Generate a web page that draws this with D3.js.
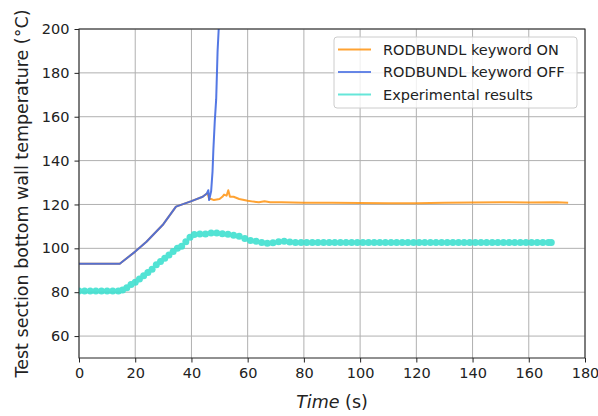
<!DOCTYPE html>
<html>
<head>
<meta charset="utf-8">
<script src="https://cdn.jsdelivr.net/npm/d3@7"></script>
<style>
  html, body { margin: 0; padding: 0; background: #fff; }
  svg { display: block; font-family: "DejaVu Sans", sans-serif; }
</style>
</head>
<body>
<svg id="chart" width="598" height="416"></svg>
<script>
// ---- data ----
const onTime = [0, 14.5, 20, 24, 30, 34.5, 40, 44, 45.5, 46, 46.3, 47, 48, 49, 50, 51, 51.6, 52.5, 53.1, 53.7, 55, 57, 60, 62, 64, 66, 68, 72, 80, 90, 100, 110, 120, 130, 140, 150, 160, 170, 174];
const onTemp = [93, 93, 98.5, 103, 111, 119, 121.5, 123.5, 125, 124, 122.5, 122.5, 122, 122.3, 122.5, 123.5, 124.5, 124, 126.5, 123.5, 123.5, 122.5, 121.7, 121.3, 121, 121.5, 121, 121, 120.8, 120.8, 120.7, 120.6, 120.6, 120.8, 120.9, 121, 120.9, 121, 120.8];

const offTime = [0, 14.5, 20, 24, 30, 34.5, 40, 44, 45.5, 46, 46.3, 47, 47.5, 47.8, 48.3, 48.8, 49.3, 49.7, 50.5];
const offTemp = [93, 93, 98.5, 103, 111, 119, 121.5, 123.5, 125, 126.5, 122, 126, 135, 145, 158, 168, 190, 200, 230];

const expTime = [0, 2, 4, 6, 8, 10, 12, 14, 15.5, 17, 18.5, 20, 21.5, 23, 24.5, 26, 27.5, 29, 30.5, 32, 33.5, 35, 36.5, 38, 39.5, 41, 43, 45, 47, 49, 51, 53, 55, 57, 59, 61, 63, 65, 67, 69, 71, 73, 75, 77, 79, 81, 83, 85, 87, 89, 91, 93, 95, 97, 99, 101, 103, 105, 107, 109, 111, 113, 115, 117, 119, 121, 123, 125, 127, 129, 131, 133, 135, 137, 139, 141, 143, 145, 147, 149, 151, 153, 155, 157, 159, 161, 163, 165, 167, 168];
const expTemp = [80.5, 80.5, 80.5, 80.5, 80.5, 80.5, 80.5, 80.5, 81, 82, 83.5, 84.5, 86, 87.5, 89, 90.5, 92.5, 94, 95.5, 97, 98.5, 100, 101, 103, 105, 106.3, 106.5, 106.5, 107, 107, 106.6, 106.4, 106, 105.5, 104.5, 103.6, 103.2, 102.7, 102.3, 102.5, 103, 103.2, 102.9, 102.7, 102.7, 102.7, 102.7, 102.7, 102.7, 102.7, 102.7, 102.7, 102.7, 102.7, 102.7, 102.7, 102.7, 102.7, 102.7, 102.7, 102.7, 102.7, 102.7, 102.7, 102.7, 102.7, 102.7, 102.7, 102.7, 102.7, 102.7, 102.7, 102.7, 102.7, 102.7, 102.7, 102.7, 102.7, 102.7, 102.7, 102.7, 102.7, 102.7, 102.7, 102.7, 102.7, 102.7, 102.7, 102.7, 102.7];

const xTicks = [0, 20, 40, 60, 80, 100, 120, 140, 160, 180];
const yTicks = [60, 80, 100, 120, 140, 160, 180, 200];

const seriesNames = ["RODBUNDL keyword ON", "RODBUNDL keyword OFF", "Experimental results"];
const seriesColors = ["#ff8c00", "#4169e1", "#40e0d0"];

// ---- layout ----
const svg = d3.select("#chart");
const pLeft = 79, pRight = 585, pTop = 29, pBottom = 358;

const x = d3.scaleLinear().domain([0, 180]).range([pLeft, pRight]);
const y = d3.scaleLinear().domain([50, 200]).range([pBottom, pTop]);

svg.append("defs").append("clipPath").attr("id", "plotclip")
  .append("rect").attr("x", pLeft).attr("y", pTop).attr("width", pRight - pLeft).attr("height", pBottom - pTop);

// grid
const grid = svg.append("g");
grid.selectAll("line.gx").data(xTicks).join("line").attr("class", "gx")
  .attr("x1", d => x(d)).attr("x2", d => x(d)).attr("y1", pTop).attr("y2", pBottom)
  .attr("stroke", "#b0b0b0").attr("stroke-width", 1);
grid.selectAll("line.gy").data(yTicks).join("line").attr("class", "gy")
  .attr("y1", d => y(d)).attr("y2", d => y(d)).attr("x1", pLeft).attr("x2", pRight)
  .attr("stroke", "#b0b0b0").attr("stroke-width", 1);

// lines
const plot = svg.append("g").attr("clip-path", "url(#plotclip)");
const line = d3.line().x(d => x(d[0])).y(d => y(d[1]));

plot.append("path").datum(d3.zip(onTime, onTemp))
  .attr("d", line).attr("fill", "none").attr("stroke", seriesColors[0])
  .attr("stroke-width", 2).attr("stroke-opacity", 0.8).attr("stroke-linejoin", "round");

plot.append("path").datum(d3.zip(offTime, offTemp))
  .attr("d", line).attr("fill", "none").attr("stroke", seriesColors[1])
  .attr("stroke-width", 2).attr("stroke-opacity", 0.9).attr("stroke-linejoin", "round");

const expG = plot.append("g").attr("opacity", 0.9);
expG.append("path").datum(d3.zip(expTime, expTemp))
  .attr("d", line).attr("fill", "none").attr("stroke", seriesColors[2]).attr("stroke-width", 2);
expG.selectAll("circle").data(d3.zip(expTime, expTemp)).join("circle")
  .attr("cx", d => x(d[0])).attr("cy", d => y(d[1])).attr("r", 3.5)
  .attr("fill", seriesColors[2]);

// axes
const xAxis = svg.append("g").attr("transform", `translate(0,${pBottom})`)
  .call(d3.axisBottom(x).tickValues(xTicks).tickSize(4.5).tickPadding(5).tickFormat(d3.format("d")));
const yAxis = svg.append("g").attr("transform", `translate(${pLeft},0)`)
  .call(d3.axisLeft(y).tickValues(yTicks).tickSize(4.5).tickPadding(5).tickFormat(d3.format("d")));
[xAxis, yAxis].forEach(a => {
  a.select(".domain").remove();
  a.selectAll("text").attr("font-family", "DejaVu Sans").attr("font-size", 14.5).attr("fill", "#222");
  a.selectAll("line").attr("stroke", "#222").attr("stroke-width", 1);
});

// frame
svg.append("rect").attr("x", pLeft).attr("y", pTop).attr("width", pRight - pLeft).attr("height", pBottom - pTop)
  .attr("fill", "none").attr("stroke", "#222").attr("stroke-width", 1);

// axis labels
svg.append("text").attr("transform", `translate(28,${(pTop + pBottom) / 2}) rotate(-90)`)
  .attr("text-anchor", "middle").attr("font-size", 17.5).attr("fill", "#222")
  .text("Test section bottom wall temperature (°C)");

const xl = svg.append("text").attr("x", (pLeft + pRight) / 2).attr("y", 408)
  .attr("text-anchor", "middle").attr("font-size", 17.5).attr("fill", "#222");
xl.append("tspan").attr("font-style", "italic").text("Time");
xl.append("tspan").text(" (s)");

// legend
const lg = svg.append("g");
lg.append("rect").attr("x", 334).attr("y", 37).attr("width", 243).attr("height", 71).attr("rx", 3)
  .attr("fill", "#fff").attr("fill-opacity", 0.8).attr("stroke", "#cccccc").attr("stroke-width", 1);
const rows = lg.selectAll("g.row").data(seriesNames).join("g").attr("class", "row")
  .attr("transform", (d, i) => `translate(0,${49.5 + i * 22.5})`);
rows.append("line").attr("x1", 338).attr("x2", 371).attr("y1", 0).attr("y2", 0)
  .attr("stroke", (d, i) => seriesColors[i]).attr("stroke-opacity", 0.8).attr("stroke-width", 2.2);
rows.append("text").attr("x", 383).attr("y", 5.2).attr("font-size", 14.5).attr("fill", "#222").text(d => d);
</script>
</body>
</html>
